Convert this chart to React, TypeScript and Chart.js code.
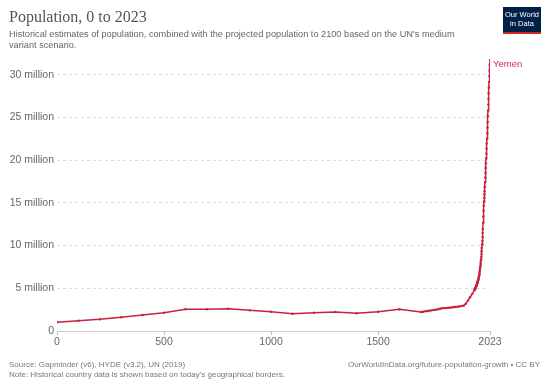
import { useEffect, useRef } from "react";
import { Chart, registerables } from "chart.js";

Chart.register(...registerables);

const years = [
  0, 100, 200, 300, 400, 500, 600, 700, 800, 900, 1000, 1100, 1200, 1300, 1400, 1500, 1600, 1700,
  1710, 1720, 1730, 1740, 1750, 1760, 1770, 1780, 1790,
  1800, 1810, 1820, 1830, 1840, 1850, 1860, 1870, 1880, 1890, 1900, 1910, 1920, 1930, 1940,
  1950, 1951, 1952, 1953, 1954, 1955, 1956, 1957, 1958, 1959,
  1960, 1961, 1962, 1963, 1964, 1965, 1966, 1967, 1968, 1969,
  1970, 1971, 1972, 1973, 1974, 1975, 1976, 1977, 1978, 1979,
  1980, 1981, 1982, 1983, 1984, 1985, 1986, 1987, 1988, 1989,
  1990, 1991, 1992, 1993, 1994, 1995, 1996, 1997, 1998, 1999,
  2000, 2001, 2002, 2003, 2004, 2005, 2006, 2007, 2008, 2009,
  2010, 2011, 2012, 2013, 2014, 2015, 2016, 2017, 2018, 2019,
  2020, 2021, 2022, 2023,
];

// population in millions
const populationMillions = [
  1.02, 1.21, 1.37, 1.6, 1.87, 2.14, 2.54, 2.54, 2.61, 2.42, 2.26, 2.03, 2.14, 2.22, 2.07, 2.26, 2.54, 2.22,
  2.26, 2.3, 2.34, 2.38, 2.42, 2.46, 2.5, 2.55, 2.6,
  2.66, 2.68, 2.7, 2.73, 2.75, 2.78, 2.81, 2.84, 2.88, 2.92, 2.97, 3.2, 3.55, 3.95, 4.35,
  4.78, 4.83, 4.88, 4.94, 4.99, 5.05, 5.1, 5.16, 5.22, 5.28,
  5.35, 5.42, 5.49, 5.57, 5.65, 5.73, 5.81, 5.9, 6.0, 6.1,
  6.2, 6.33, 6.47, 6.62, 6.79, 6.98, 7.18, 7.39, 7.61, 7.85,
  8.1, 8.38, 8.68, 9.0, 9.35, 9.73, 10.13, 10.55, 10.99, 11.46,
  11.95, 12.68, 13.41, 14.08, 14.66, 15.16, 15.58, 15.97, 16.36, 16.86,
  17.41, 17.97, 18.53, 19.08, 19.63, 20.19, 20.76, 21.34, 21.94, 22.54,
  23.15, 23.81, 24.47, 25.15, 25.82, 26.5, 27.17, 27.83, 28.5, 29.16,
  29.83, 30.49, 31.16, 31.84,
];

const xTickValues = [0, 500, 1000, 1500, 2023];
const yTickValues = [0, 5, 10, 15, 20, 25, 30];
const seriesName = "Yemen";

const titleText = "Population, 0 to 2023";
const subtitleLines = [
  "Historical estimates of population, combined with the projected population to 2100 based on the UN's medium",
  "variant scenario.",
];
const sourceLines = [
  "Source: Gapminder (v6), HYDE (v3.2), UN (2019)",
  "Note: Historical country data is shown based on today's geographical borders.",
];
const urlText = "OurWorldInData.org/future-population-growth • CC BY";
const logoLines = ["Our World", "in Data"];

const LINE_COLOR = "#c8213f";
const LABEL_COLOR = "#d2294d";
const SANS = "'Liberation Sans', Arial, Helvetica, sans-serif";
const SERIF = "'Liberation Serif', 'Times New Roman', serif";

export default function App() {
  const ref = useRef<HTMLCanvasElement>(null);

  useEffect(() => {
    const canvas = ref.current;
    if (!canvas) return;

    const overlay = {
      id: "owidOverlay",
      afterDraw(chart: any) {
        const ctx = chart.ctx as CanvasRenderingContext2D;
        ctx.save();
        // title
        ctx.fillStyle = "#555";
        ctx.textBaseline = "alphabetic";
        ctx.textAlign = "left";
        ctx.font = `16px ${SERIF}`;
        ctx.fillText(titleText, 9, 22);
        // subtitle
        ctx.fillStyle = "#666";
        ctx.font = `9.2px ${SANS}`;
        subtitleLines.forEach((t, i) => ctx.fillText(t, 9, 37 + i * 11));
        // footer
        ctx.fillStyle = "#777";
        ctx.font = `8px ${SANS}`;
        sourceLines.forEach((t, i) => ctx.fillText(t, 9, 367 + i * 10));
        ctx.textAlign = "right";
        ctx.fillText(urlText, 540, 367);
        // logo
        ctx.fillStyle = "#002147";
        ctx.fillRect(503, 7, 38, 27);
        ctx.fillStyle = "#ce261e";
        ctx.fillRect(503, 32, 38, 2);
        ctx.fillStyle = "#fff";
        ctx.textAlign = "center";
        ctx.font = `7.5px ${SANS}`;
        ctx.fillText(logoLines[0], 522, 17);
        ctx.fillText(logoLines[1], 522, 26);
        // series label
        const meta = chart.getDatasetMeta(0);
        const last = meta.data[meta.data.length - 1];
        if (last) {
          ctx.textAlign = "left";
          ctx.textBaseline = "middle";
          ctx.fillStyle = LABEL_COLOR;
          ctx.font = `9.5px ${SANS}`;
          ctx.fillText(seriesName, last.x + 3, last.y + 5);
        }
        ctx.restore();
      },
    };

    const chart = new Chart(canvas, {
      type: "line",
      data: {
        datasets: [
          {
            label: seriesName,
            data: years.map((x, i) => ({ x, y: populationMillions[i] })),
            borderColor: LINE_COLOR,
            backgroundColor: LINE_COLOR,
            borderWidth: 1.5,
            pointRadius: 1.2,
            pointBorderWidth: 0,
            pointHoverRadius: 0,
            tension: 0,
          },
        ],
      },
      options: {
        responsive: false,
        animation: false,
        devicePixelRatio: 1,
        layout: { padding: { left: 0, right: 60, top: 59, bottom: 36 } },
        plugins: {
          legend: { display: false },
          tooltip: { enabled: false },
          title: { display: false },
        },
        scales: {
          x: {
            type: "linear",
            min: 0,
            max: 2023,
            afterBuildTicks: (s: any) => {
              s.ticks = xTickValues.map((v) => ({ value: v }));
            },
            afterFit: (s: any) => {
              s.height = 22;
            },
            grid: {
              drawOnChartArea: false,
              drawTicks: true,
              tickLength: 4,
              color: "#bbb",
            },
            border: { display: true, color: "#ccc", width: 1 },
            ticks: {
              color: "#666",
              font: { family: SANS, size: 10.5 },
              padding: 1,
              maxRotation: 0,
              autoSkip: false,
              callback: (v: any) => String(v),
            },
          },
          y: {
            type: "linear",
            min: 0,
            max: Math.max(...populationMillions),
            afterBuildTicks: (s: any) => {
              s.ticks = yTickValues.map((v) => ({ value: v }));
            },
            afterFit: (s: any) => {
              s.width = 57;
            },
            grid: {
              drawTicks: false,
              color: (c: any) => (c.tick && c.tick.value === 0 ? "rgba(0,0,0,0)" : "#ddd"),
            },
            border: { display: false, dash: [3, 3] },
            ticks: {
              padding: 3,
              color: "#666",
              font: { family: SANS, size: 10.5 },
              callback: (v: any) => (v === 0 ? "0" : `${v} million`),
            },
          },
        },
      },
      plugins: [overlay],
    } as any);

    return () => chart.destroy();
  }, []);

  return (
    <div style={{ position: "absolute", left: 0, top: 0, width: 550, height: 389, background: "#fff" }}>
      <canvas ref={ref} width={550} height={389} style={{ display: "block", width: 550, height: 389 }} />
    </div>
  );
}
